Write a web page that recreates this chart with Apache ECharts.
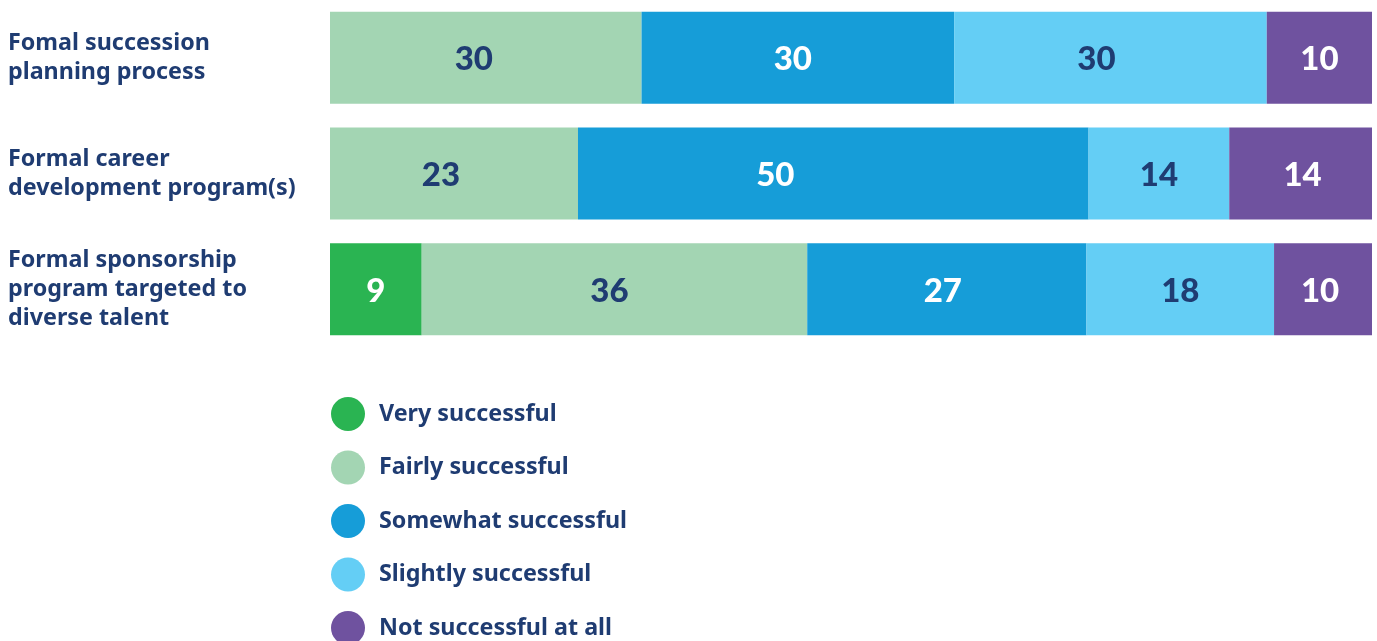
<!DOCTYPE html>
<html>
<head>
<meta charset="utf-8">
<script src="https://cdn.jsdelivr.net/npm/echarts@6/dist/echarts.min.js"></script>
<style>html,body{margin:0;padding:0;background:#fff}#c{width:1377px;height:641px}</style>
</head>
<body>
<div id="c"></div>
<script>
const categories = ['Fomal succession\nplanning process', 'Formal career\ndevelopment program(s)', 'Formal sponsorship\nprogram targeted to\ndiverse talent'];
const seriesNames = ['Very successful', 'Fairly successful', 'Somewhat successful', 'Slightly successful', 'Not successful at all'];
// bar shares (percent of row)
const veryShare = [null, null, 8.8];
const fairlyShare = [29.9, 23.8, 37.0];
const somewhatShare = [30.0, 49.0, 26.8];
const slightlyShare = [30.0, 13.5, 18.0];
const notShare = [10.1, 13.7, 9.4];
// printed labels
const veryLabels = ['', '', '9'];
const fairlyLabels = ['30', '23', '36'];
const somewhatLabels = ['30', '50', '27'];
const slightlyLabels = ['30', '14', '18'];
const notLabels = ['10', '14', '10'];

const colors = ['#2ab452', '#a3d5b3', '#169dd8', '#64cef5', '#6f529f'];
const labelColors = ['#ffffff', '#1f3c72', '#ffffff', '#1f3c72', '#ffffff'];
// horizontal nudges of printed labels, as placed in the original
const labelNudge = [[0, 0, 0], [-12, -13, -5], [-5, -58, -4], [-14, 0, 0], [0, 2, -3]];
const shares = [veryShare, fairlyShare, somewhatShare, slightlyShare, notShare];
const labels = [veryLabels, fairlyLabels, somewhatLabels, slightlyLabels, notLabels];
const navy = '#1f3c72';

const chart = echarts.init(document.getElementById('c'));
chart.setOption({
  animation: false,
  color: colors,
  grid: { left: 330, right: 5, top: -2.5, bottom: 294, containLabel: false },
  xAxis: { type: 'value', min: 0, max: 100, show: false },
  yAxis: {
    type: 'category', data: categories, inverse: true,
    axisLine: { show: false }, axisTick: { show: false }, splitLine: { show: false },
    axisLabel: { align: 'left', margin: 322, fontSize: 23.3, lineHeight: 29, fontWeight: 'bold', color: navy, fontFamily: 'Noto Sans' }
  },
  legend: {
    orient: 'vertical', left: 331, top: 397, height: 300, padding: 0,
    itemWidth: 34, itemHeight: 34, itemGap: 19.5, icon: 'circle',
    data: seriesNames,
    textStyle: { fontSize: 23.3, fontWeight: 'bold', color: navy, fontFamily: 'Noto Sans', padding: [0, 0, 0, 9] }
  },
  series: seriesNames.map((name, i) => ({
    name, type: 'bar', stack: 'total', barWidth: 92,
    data: shares[i].map((v, j) => ({
      value: v,
      label: { offset: [labelNudge[i][j], 2] }
    })),
    itemStyle: { color: colors[i] },
    label: {
      show: true, position: 'inside', color: labelColors[i],
      fontSize: 33, fontWeight: 900, fontFamily: 'Lato',
      formatter: p => labels[i][p.dataIndex]
    }
  }))
});
</script>
</body>
</html>
